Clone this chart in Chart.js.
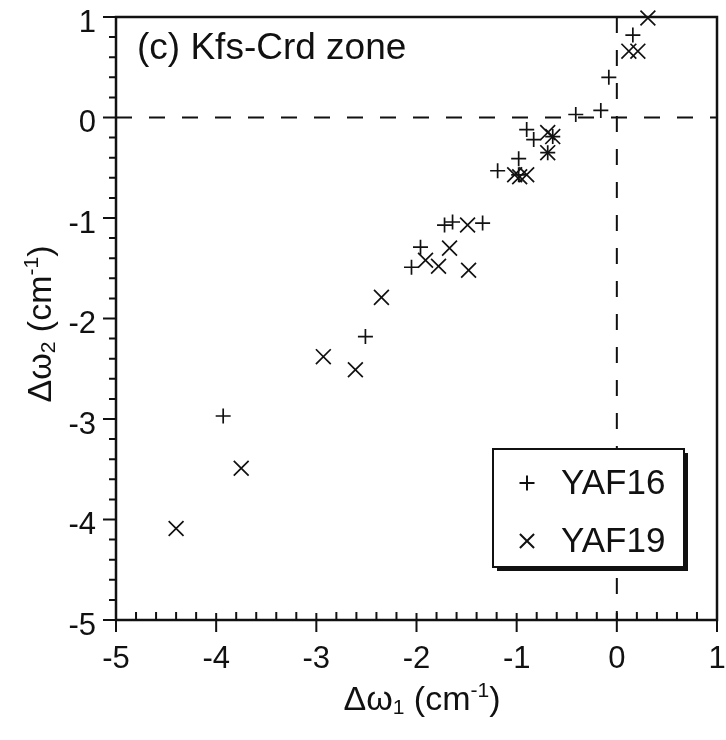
<!DOCTYPE html>
<html>
<head>
<meta charset="utf-8">
<script src="https://cdn.jsdelivr.net/npm/chart.js@4.4.0/dist/chart.umd.min.js"></script>
<style>
  body { margin: 0; background: #fff; }
  #wrap { width: 726px; height: 740px; }
</style>
</head>
<body>
<div id="wrap"><canvas id="zoneChart" width="726" height="740"></canvas></div>
<script>
// valores (c) Kfs-Crd zone
var yaf16X = [0.16, -0.08, -0.16, -0.41, -0.90, -0.64, -0.83, -0.69, -0.98, -1.19, -0.98, -1.72, -1.64, -1.34, -1.96, -2.05, -2.51, -3.93];
var yaf16Y = [0.82, 0.40, 0.07, 0.03, -0.12, -0.19, -0.22, -0.35, -0.41, -0.53, -0.57, -1.07, -1.04, -1.05, -1.29, -1.49, -2.18, -2.97];
var yaf19X = [0.31, 0.12, 0.21, -0.69, -0.64, -0.69, -1.02, -0.97, -0.90, -1.49, -1.67, -1.91, -1.78, -1.48, -2.35, -2.93, -2.61, -3.75, -4.40];
var yaf19Y = [0.99, 0.66, 0.66, -0.15, -0.19, -0.35, -0.57, -0.59, -0.57, -1.07, -1.30, -1.42, -1.48, -1.52, -1.79, -2.38, -2.51, -3.49, -4.09];
var seriesNames = ['YAF16', 'YAF19'];
var xTickValues = [-5, -4, -3, -2, -1, 0, 1];
var yTickValues = [1, 0, -1, -2, -3, -4, -5];
var panelLabel = '(c) Kfs-Crd zone';

var FONT = '"Liberation Sans", Arial, sans-serif';

function toPoints(xs, ys) {
    return xs.map(function (x, i) { return { x: x, y: ys[i] }; });
}

// texto com índice/expoente: [texto, deslocamento]
function drawRich(ctx, parts, x, y, size) {
    var total = 0;
    parts.forEach(function (p) {
        ctx.font = (p[1] ? size * 0.62 : size) + 'px ' + FONT;
        total += ctx.measureText(p[0]).width;
    });
    var cx = x - total / 2;
    parts.forEach(function (p) {
        ctx.font = (p[1] ? size * 0.62 : size) + 'px ' + FONT;
        ctx.fillText(p[0], cx, y + p[1] * size);
        cx += ctx.measureText(p[0]).width;
    });
}

var extras = {
    id: 'extras',
    afterDraw: function (chart) {
        var ctx = chart.ctx;
        var a = chart.chartArea;
        var xs = chart.scales.x, ys = chart.scales.y;
        ctx.save();
        ctx.strokeStyle = '#111';
        ctx.fillStyle = '#111';

        // linhas tracejadas em zero
        ctx.lineWidth = 2;
        ctx.setLineDash([16, 17]);
        var x0 = xs.getPixelForValue(0), y0 = ys.getPixelForValue(0);
        ctx.beginPath();
        ctx.moveTo(a.left, y0); ctx.lineTo(a.right, y0);
        ctx.moveTo(x0, a.top); ctx.lineTo(x0, a.bottom);
        ctx.stroke();
        ctx.setLineDash([]);

        // moldura
        ctx.lineWidth = 2.5;
        ctx.strokeRect(a.left, a.top, a.right - a.left, a.bottom - a.top);

        // marcas dos eixos
        ctx.lineWidth = 2;
        ctx.beginPath();
        for (var v = -5; v <= 1.001; v += 0.2) {
            var major = Math.abs(v - Math.round(v)) < 0.01;
            var px = xs.getPixelForValue(v);
            ctx.moveTo(px, a.bottom - (major ? 7 : 8));
            ctx.lineTo(px, a.bottom + (major ? 12 : 0));
            var py = ys.getPixelForValue(v);
            ctx.moveTo(a.left, py);
            ctx.lineTo(a.left - (major ? 13 : 7), py);
        }
        ctx.stroke();

        // rótulo do painel
        ctx.textBaseline = 'middle';
        ctx.textAlign = 'left';
        ctx.font = '37px ' + FONT;
        ctx.fillText(panelLabel, 137, 49);

        // títulos dos eixos
        drawRich(ctx, [['Δω', 0], ['1', 0.22], [' (cm', 0], ['-1', -0.3], [')', 0]], 422, 701, 34);
        ctx.save();
        ctx.translate(42, 324);
        ctx.rotate(-Math.PI / 2);
        drawRich(ctx, [['Δω', 0], ['2', 0.22], [' (cm', 0], ['-1', -0.3], [')', 0]], 0, 0, 34);
        ctx.restore();

        // legenda com sombra
        var lx = 493, ly = 449, lw = 191, lh = 118;
        ctx.fillStyle = '#111';
        ctx.fillRect(lx + 4, ly + 4, lw, lh);
        ctx.fillStyle = '#fff';
        ctx.fillRect(lx, ly, lw, lh);
        ctx.lineWidth = 2;
        ctx.strokeRect(lx, ly, lw, lh);
        ctx.fillStyle = '#111';
        ctx.font = '35px ' + FONT;
        chart.data.datasets.forEach(function (ds, i) {
            var my = ly + 34 + i * 58;
            Chart.helpers.drawPoint(ctx, {
                pointStyle: ds.pointStyle, radius: ds.pointStyle === 'cross' ? 7.5 : 10,
                borderWidth: 1.6, rotation: 0
            }, lx + 34, my);
            ctx.fillText(ds.label, lx + 68, my + 1);
        });
        ctx.restore();
    }
};

var ctxZone = document.getElementById('zoneChart').getContext('2d');
new Chart(ctxZone, {
    type: 'scatter',
    data: {
        datasets: [{
            label: seriesNames[0],
            data: toPoints(yaf16X, yaf16Y),
            pointStyle: 'cross',
            pointRadius: 7.5,
            pointBorderWidth: 1.7,
            borderColor: '#111',
            backgroundColor: '#111',
            clip: false
        }, {
            label: seriesNames[1],
            data: toPoints(yaf19X, yaf19Y),
            pointStyle: 'crossRot',
            pointRadius: 10.5,
            pointBorderWidth: 1.7,
            borderColor: '#111',
            backgroundColor: '#111',
            clip: false
        }]
    },
    options: {
        responsive: false,
        animation: false,
        layout: { autoPadding: false, padding: { top: 17, right: 9, left: 0, bottom: 0 } },
        plugins: {
            legend: { display: false },
            tooltip: { enabled: false }
        },
        scales: {
            x: {
                type: 'linear',
                min: -5,
                max: 1,
                afterFit: function (s) {
                    s.height = 120;
                    s.paddingLeft = 0;
                    s.paddingRight = 0;
                },
                afterBuildTicks: function (s) { s.ticks = xTickValues.map(function (v) { return { value: v }; }); },
                grid: { drawOnChartArea: false, drawTicks: false },
                border: { display: false },
                ticks: {
                    color: '#111',
                    padding: 21,
                    maxRotation: 0,
                    font: { family: FONT, size: 31 }
                }
            },
            y: {
                type: 'linear',
                min: -5,
                max: 1,
                afterFit: function (s) {
                    s.width = 116;
                    s.paddingTop = 0;
                    s.paddingBottom = 0;
                    s.paddingLeft = 0;
                    s.paddingRight = 0;
                },
                afterBuildTicks: function (s) { s.ticks = yTickValues.map(function (v) { return { value: v }; }); },
                grid: { drawOnChartArea: false, drawTicks: false },
                border: { display: false },
                ticks: {
                    color: '#111',
                    padding: 20,
                    labelOffset: 6,
                    font: { family: FONT, size: 31 }
                }
            }
        }
    },
    plugins: [extras]
});
</script>
</body>
</html>
